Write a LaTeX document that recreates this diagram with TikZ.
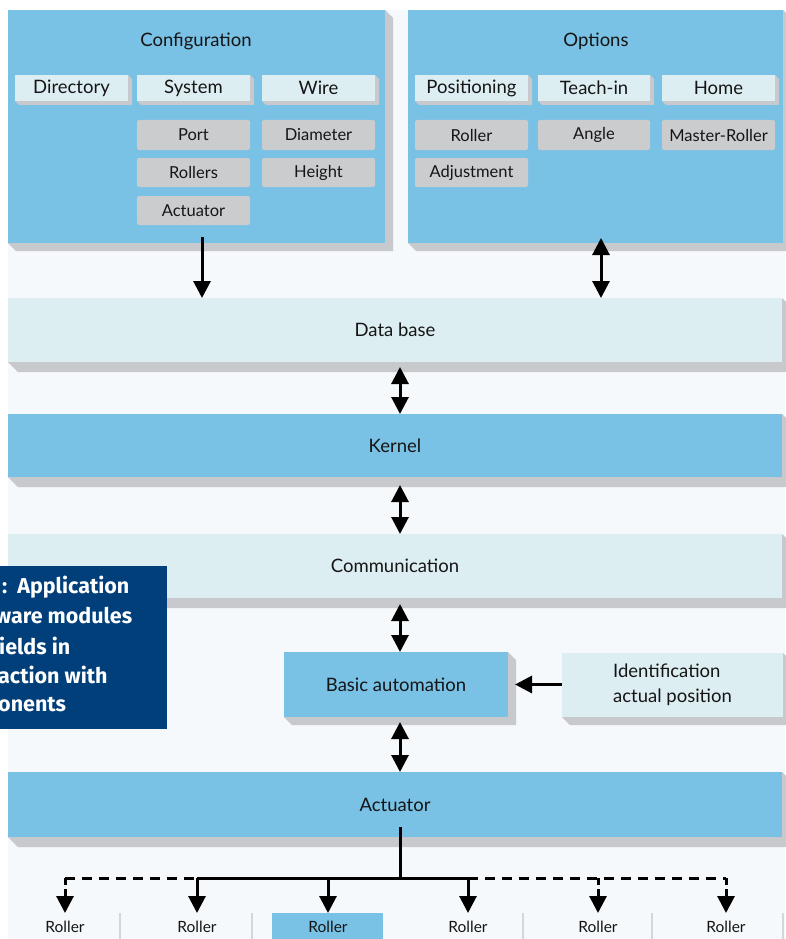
\documentclass[tikz,border=0pt]{standalone}
\usepackage{fontspec}
\setmainfont{Lato}
\newfontfamily\capfont{Fira Sans}
\usetikzlibrary{arrows.meta}
\definecolor{bgc}{HTML}{F5F9FB}
\definecolor{blu}{HTML}{79C1E5}
\definecolor{lig}{HTML}{DDEEF3}
\definecolor{shc}{HTML}{C8C9CC}
\definecolor{gry}{HTML}{CBCCCE}
\definecolor{navy}{HTML}{003F7A}
\definecolor{txt}{HTML}{151515}
\definecolor{sep}{HTML}{D4D6D8}
% name, cx, cy, w, h, d, style, text
\newcommand\shadbox[8]{%
  \fill[shc] ({#2-#4/2},{#3+#5/2}) -- ++(#6,#6) -- ({#2+#4/2+#6},{#3+#5/2+#6})
    -- ({#2+#4/2+#6},{#3-#5/2+#6}) -- ({#2+#4/2},{#3-#5/2}) -- cycle;
  \node[#7, minimum width=#4, minimum height=#5] (#1) at (#2,#3) {#8};}
\begin{document}
\begin{tikzpicture}[x=1pt,y=-1pt,
  font=\fontsize{18.5}{25}\selectfont, text=txt,
  box/.style={inner sep=0pt, outer sep=0pt, align=center},
  bluebox/.style={box, fill=blu},
  lightbox/.style={box, fill=lig},
  graybox/.style={box, fill=gry, rounded corners=2pt, font=\fontsize{16.5}{19}\selectfont},
  lbl/.style={inner sep=0pt, text=txt},
  roll/.style={inner sep=0pt, font=\fontsize{15.5}{17}\selectfont},
  tip/.style={line width=3pt, -{Triangle[width=17pt,length=17pt]}},
  dtip/.style={line width=3pt, {Triangle[width=17pt,length=17pt]}-{Triangle[width=17pt,length=17pt]}},
  dline/.style={line width=3pt, dash pattern=on 10pt off 7pt},
  capt/.style={anchor=west, inner sep=0pt, text=white, font=\capfont\bfseries\fontsize{21.5}{24}\selectfont},
]
\useasboundingbox (0,0) rectangle (785,939);
\fill[bgc] (8,10) rectangle (785,939);

% top panels
\shadbox{config}{196.5}{126.5}{377}{233}{8}{bluebox}{}
\shadbox{options}{595.5}{126.5}{375}{233}{8}{bluebox}{}
\node[lbl] (cfgt) at (196,41) {Configuration};
\node[lbl] (optt) at (596,41) {Options};

\shadbox{dir}{71.5}{88}{113}{26}{4}{lightbox}{Directory}
\shadbox{sys}{193.5}{88}{113}{26}{4}{lightbox}{System}
\shadbox{wire}{318.5}{88}{113}{26}{4}{lightbox}{Wire}
\shadbox{posi}{471.5}{88}{113}{26}{4}{lightbox}{Positioning}
\shadbox{teach}{594}{88}{112}{26}{4}{lightbox}{Teach-in}
\shadbox{home}{718.5}{88}{113}{26}{4}{lightbox}{Home}

\node[graybox, minimum width=113, minimum height=30] (port) at (193.5,135) {Port};
\node[graybox, minimum width=113, minimum height=29] (rollers) at (193.5,172.5) {Rollers};
\node[graybox, minimum width=113, minimum height=29] (actu) at (193.5,210.5) {Actuator};
\node[graybox, minimum width=113, minimum height=30] (diam) at (318.5,135) {Diameter};
\node[graybox, minimum width=113, minimum height=29] (height) at (318.5,172.5) {Height};
\node[graybox, minimum width=113, minimum height=30] (roller) at (471.5,135) {Roller};
\node[graybox, minimum width=113, minimum height=29] (adj) at (471.5,172.5) {Adjustment};
\node[graybox, minimum width=112, minimum height=30] (angle) at (594,135) {Angle};
\node[graybox, minimum width=113, minimum height=30] (master) at (718.5,135) {Master-Roller};

% bands
\shadbox{db}{395}{330}{774}{64}{10}{lightbox}{Data base}
\shadbox{kernel}{395}{445.5}{774}{63}{10}{bluebox}{Kernel}
\shadbox{comm}{395}{566}{774}{64}{10}{lightbox}{Communication}
\shadbox{basic}{396}{684.5}{224}{65}{8}{bluebox}{Basic automation}
\shadbox{ident}{672.5}{685}{221}{64}{8}{lightbox, align=left}{Identification\\actual position}
\shadbox{act}{395}{804.5}{774}{65}{10}{bluebox}{Actuator}

% columns
\coordinate (xa) at (202,0);
\coordinate (xb) at (601,0);
\coordinate (xc) at (400,0);

\draw[tip] ([yshift=6pt]xa |- config.south) -- (xa |- db.north);
\draw[dtip] ([yshift=5pt]xb |- options.south) -- (xb |- db.north);
\draw[dtip, shorten <=5pt] (xc |- db.south) -- (xc |- kernel.north);
\draw[dtip, shorten <=8pt] (xc |- kernel.south) -- (xc |- comm.north);
\draw[dtip, shorten <=6pt] (xc |- comm.south) -- (xc |- basic.north);
\draw[dtip, shorten <=5pt] (xc |- basic.south) -- (xc |- act.north);
\draw[tip, shorten >=7pt] (ident.west |- basic.east) -- (basic.east);

% rollers
\fill[blu] (272,913) rectangle (383,939);
\foreach \x in {120,252,523,652,783} \draw[sep, line width=1.5pt] (\x,913) -- (\x,939);
\node[roll] (r1) at (65,927) {Roller};
\node[roll] (r2) at (197,927) {Roller};
\node[roll] (r3) at (328,927) {Roller};
\node[roll] (r4) at (468,927) {Roller};
\node[roll] (r5) at (598,927) {Roller};
\node[roll] (r6) at (726,927) {Roller};
\coordinate (top) at (0,913);
\coordinate (hub) at (400,878);
\draw[line width=3pt] ([yshift=10pt]xc |- act.south) -- (hub);
\draw[line width=3pt] (r2 |- hub) -- (r4 |- hub);
\draw[dline] (r1 |- hub) -- (r2 |- hub);
\draw[dline] (r4 |- hub) -- (r6 |- hub);
\draw[tip] (r2 |- hub) -- (r2 |- top);
\draw[tip] (r3 |- hub) -- (r3 |- top);
\draw[tip] (r4 |- hub) -- (r4 |- top);
\draw[tip, dash pattern=on 7pt off 4pt] (r1 |- hub) -- (r1 |- top);
\draw[tip, dash pattern=on 7pt off 4pt] (r5 |- hub) -- (r5 |- top);
\draw[tip, dash pattern=on 7pt off 4pt] (r6 |- hub) -- (r6 |- top);

% caption box
\fill[navy] (0,566) rectangle (167,729);
\node[capt] (c1) at (2,587) {:\hspace{10pt}Application};
\node[capt] (c2) at (-5,616) {ware modules};
\node[capt] (c3) at (-1,646) {ields in};
\node[capt] (c4) at (-2,675) {action with};
\node[capt] (c5) at (-2,705) {onents};
\end{tikzpicture}
\end{document}
